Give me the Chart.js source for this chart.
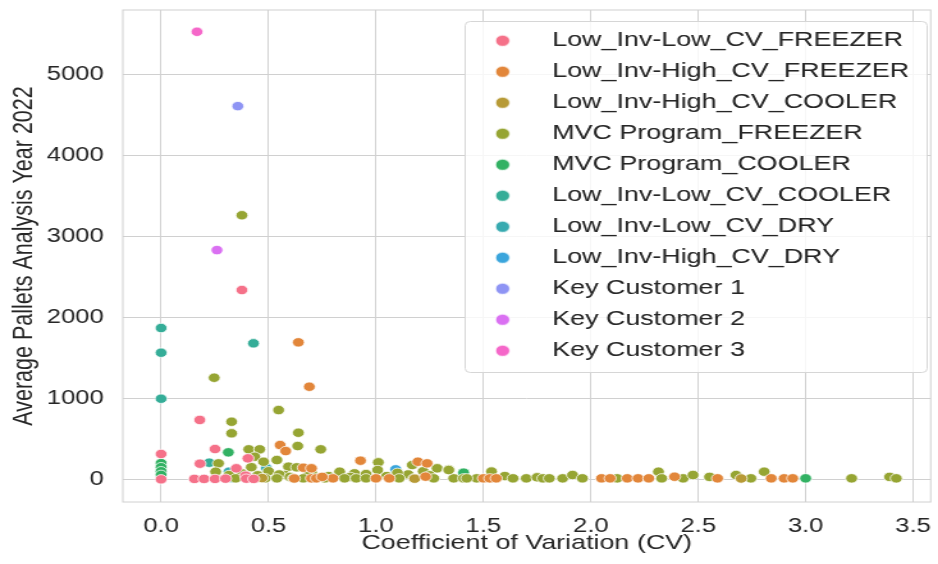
<!DOCTYPE html>
<html>
<head>
<meta charset="utf-8">
<title>Average Pallets vs Coefficient of Variation</title>
<script src="https://cdn.jsdelivr.net/npm/chart.js@4.4.1/dist/chart.umd.min.js"></script>
<style>
  html, body { margin: 0; padding: 0; background: #fff; overflow: hidden; }
  /* the source figure is stretched horizontally, so the chart is too */
  #wrap { width: 733px; height: 564px; transform: scaleX(1.2797); transform-origin: 0 0; }
</style>
</head>
<body>
<div id="wrap"><canvas id="cvChart" width="733" height="564"></canvas></div>
<script>
// ===============================
// data [cv, pallets]
// ===============================
const SERIES_NAMES = [
  "Low_Inv-Low_CV_FREEZER",
  "Low_Inv-High_CV_FREEZER",
  "Low_Inv-High_CV_COOLER",
  "MVC Program_FREEZER",
  "MVC Program_COOLER",
  "Low_Inv-Low_CV_COOLER",
  "Low_Inv-Low_CV_DRY",
  "Low_Inv-High_CV_DRY",
  "Key Customer 1",
  "Key Customer 2",
  "Key Customer 3"
];

const SERIES_COLORS = [
  "#f57189", "#e2863a", "#b79a36", "#96a533", "#32b163",
  "#35ad98", "#37aab0", "#3aa5dc", "#8e94f4", "#da70f2", "#f567c9"
];

const LOW_INV_LOW_CV_FREEZER = [
  [0.376, 2337], [0.18, 733], [0.0, 313], [0.251, 374], [0.181, 193], [0.404, 259],
  [0.35, 136], [0.393, 45], [0.0, 0], [0.155, 5], [0.2, 5], [0.251, 5], [0.30, 8],
  [0.396, 8], [0.431, 5]
];

const LOW_INV_HIGH_CV_FREEZER = [
  [0.639, 1691], [0.69, 1143], [0.554, 423], [0.58, 349], [0.928, 230], [1.195, 217],
  [1.238, 197], [0.662, 143], [0.70, 136], [0.62, 10], [0.70, 12], [0.723, 12], [0.80, 12],
  [0.75, 30], [1.0, 12], [1.062, 12], [1.231, 33], [1.5, 12], [1.53, 12], [1.56, 12],
  [2.05, 12], [2.09, 12], [2.17, 12], [2.22, 12], [2.27, 12], [2.39, 32], [2.59, 12],
  [2.84, 12], [2.90, 12], [2.94, 12]
];

const LOW_INV_HIGH_CV_COOLER = [[2.70, 10], [1.18, 8], [0.47, 15]];

const MVC_PROGRAM_FREEZER = [
  [0.376, 3260], [0.247, 1254], [0.547, 855], [0.328, 711], [0.328, 568], [0.639, 575],
  [0.636, 411], [0.743, 370], [0.408, 370], [0.459, 370], [1.011, 210], [0.267, 197],
  [0.436, 279], [0.477, 217], [0.539, 238], [0.254, 94], [0.593, 156], [0.631, 148],
  [1.169, 177], [1.285, 136], [1.339, 123], [1.008, 115], [0.831, 94], [0.90, 74],
  [0.954, 65], [0.316, 53], [0.377, 74], [0.577, 53], [0.42, 150], [0.5, 100], [0.55, 60],
  [0.7, 80], [0.78, 40], [0.88, 30], [1.05, 40], [1.15, 60], [1.22, 100], [0.45, 50],
  [0.6, 30], [0.68, 40], [1.1, 80], [1.25, 50], [0.347, 12], [0.485, 12], [0.539, 12],
  [0.616, 12], [0.662, 12], [0.762, 12], [0.854, 12], [0.908, 12], [0.954, 12], [1.108, 12],
  [1.177, 12], [1.269, 12], [1.362, 12], [1.408, 12], [1.469, 12], [1.339, 115], [1.423, 12],
  [1.538, 96], [1.60, 40], [1.638, 12], [1.70, 12], [1.75, 25], [1.777, 12], [1.807, 12],
  [1.869, 12], [1.915, 53], [1.961, 12], [2.123, 12], [2.315, 94], [2.33, 12], [2.43, 12],
  [2.476, 53], [2.553, 30], [2.676, 53], [2.745, 12], [2.807, 94], [3.214, 12], [3.391, 30],
  [3.422, 12]
];

const MVC_PROGRAM_COOLER = [[0, 200], [0, 150], [0, 100], [0, 55], [0.313, 333], [1.408, 82], [3.0, 12]];
const LOW_INV_LOW_CV_COOLER = [[0, 1868], [0, 1563], [0, 995], [0.43, 1679], [0.224, 205], [1.41, 20]];
const LOW_INV_LOW_CV_DRY = [[0.49, 139], [0.316, 94], [0.33, 15]];
const LOW_INV_HIGH_CV_DRY = [[1.092, 123], [0.44, 30]];
const KEY_CUSTOMER_1 = [[0.357, 4607]];
const KEY_CUSTOMER_2 = [[0.26, 2830]];
const KEY_CUSTOMER_3 = [[0.167, 5525]];

const SERIES_POINTS = [
  LOW_INV_LOW_CV_FREEZER, LOW_INV_HIGH_CV_FREEZER, LOW_INV_HIGH_CV_COOLER,
  MVC_PROGRAM_FREEZER, MVC_PROGRAM_COOLER, LOW_INV_LOW_CV_COOLER, LOW_INV_LOW_CV_DRY,
  LOW_INV_HIGH_CV_DRY, KEY_CUSTOMER_1, KEY_CUSTOMER_2, KEY_CUSTOMER_3
];

const X_TICKS = [0, 0.5, 1.0, 1.5, 2.0, 2.5, 3.0, 3.5];
const Y_TICKS = [0, 1000, 2000, 3000, 4000, 5000];

const X_TITLE = "Coefficient of Variation (CV)";
const Y_TITLE = "Average Pallets Analysis Year 2022";

// ===============================
// styling
// ===============================
const FONT = "'Liberation Sans', Arial, sans-serif";
const TEXT = "#262626";
const GRID = "#d0d0d0";

Chart.defaults.font.family = FONT;
Chart.defaults.color = TEXT;

// legend marker: dot shifted left so the text gap matches seaborn's
function legendDot(color) {
  const c = document.createElement("canvas");
  c.width = 32;
  c.height = 14;
  const g = c.getContext("2d");
  g.beginPath();
  g.arc(7.8, 7, 5.6, 0, Math.PI * 2);
  g.fillStyle = color;
  g.fill();
  g.lineWidth = 0.75;
  g.strokeStyle = "#ffffff";
  g.stroke();
  return c;
}

const framePlugin = {
  id: "frame",
  afterLayout(chart) {
    // put the legend inside the plot, upper right
    const lg = chart.legend;
    lg.left = 371;
    lg.right = lg.left + lg.width;
    lg.top = 20.2;
    lg.bottom = lg.top + lg.height;
  },
  beforeDatasetsDraw(chart) {
    const { ctx, chartArea: a } = chart;
    ctx.save();
    ctx.strokeStyle = GRID;
    ctx.lineWidth = 1;
    ctx.strokeRect(a.left, a.top, a.right - a.left, a.bottom - a.top);
    ctx.restore();
  },
  afterDraw(chart) {
    const ctx = chart.ctx;
    ctx.save();
    ctx.beginPath();
    if (ctx.roundRect) ctx.roundRect(363.5, 21.5, 361, 351, 4);
    else ctx.rect(363.5, 21.5, 361, 351);
    ctx.fillStyle = "rgba(255,255,255,0.8)";
    ctx.fill();
    ctx.strokeStyle = "#d6d6d6";
    ctx.lineWidth = 1;
    ctx.stroke();
    ctx.restore();
    chart.legend.draw();
  }
};

const datasets = SERIES_NAMES.map((name, i) => ({
  label: name,
  data: SERIES_POINTS[i].map(([x, y]) => ({ x, y })),
  backgroundColor: SERIES_COLORS[i],
  borderColor: "#ffffff",
  borderWidth: 0.75,
  pointRadius: 4.7,
  pointHoverRadius: 5
}));

new Chart(document.getElementById("cvChart"), {
  type: "scatter",
  data: { datasets },
  plugins: [framePlugin],
  options: {
    responsive: false,
    animation: false,
    devicePixelRatio: 1,
    layout: { padding: { top: 10, right: 1, left: 0, bottom: 0 } },
    plugins: {
      tooltip: { enabled: false },
      legend: {
        position: "chartArea",
        align: "start",
        labels: {
          usePointStyle: true,
          pointStyleWidth: 40,
          boxHeight: 8,
          padding: 10,
          color: TEXT,
          font: { size: 21 },
          generateLabels(chart) {
            const items = Chart.defaults.plugins.legend.labels.generateLabels(chart);
            items.forEach((it, i) => { it.pointStyle = legendDot(SERIES_COLORS[i]); });
            return items;
          }
        }
      }
    },
    scales: {
      x: {
        type: "linear",
        min: -0.178,
        max: 3.582,
        afterBuildTicks: (s) => { s.ticks = X_TICKS.map((v) => ({ value: v })); },
        afterFit: (s) => { s.height = 62; s.paddingLeft = 0; s.paddingRight = 0; },
        grid: { color: GRID, lineWidth: 1, drawTicks: false },
        border: { display: false },
        ticks: { padding: 12, color: TEXT, font: { size: 20 }, callback: (v) => Number(v).toFixed(1) },
        title: { display: true, text: X_TITLE, color: TEXT, font: { size: 21 }, padding: { top: 0, bottom: 8 } }
      },
      y: {
        type: "linear",
        min: -280,
        max: 5794,
        afterBuildTicks: (s) => { s.ticks = Y_TICKS.map((v) => ({ value: v })); },
        afterFit: (s) => { s.width = 96; s.paddingTop = 0; s.paddingBottom = 0; },
        grid: { color: GRID, lineWidth: 1, drawTicks: false },
        border: { display: false },
        ticks: { padding: 15, color: TEXT, font: { size: 20 }, callback: (v) => String(v) },
        title: { display: true, text: Y_TITLE, color: TEXT, font: { size: 21.5 }, padding: { top: 6, bottom: 0 } }
      }
    }
  }
});
</script>
</body>
</html>
